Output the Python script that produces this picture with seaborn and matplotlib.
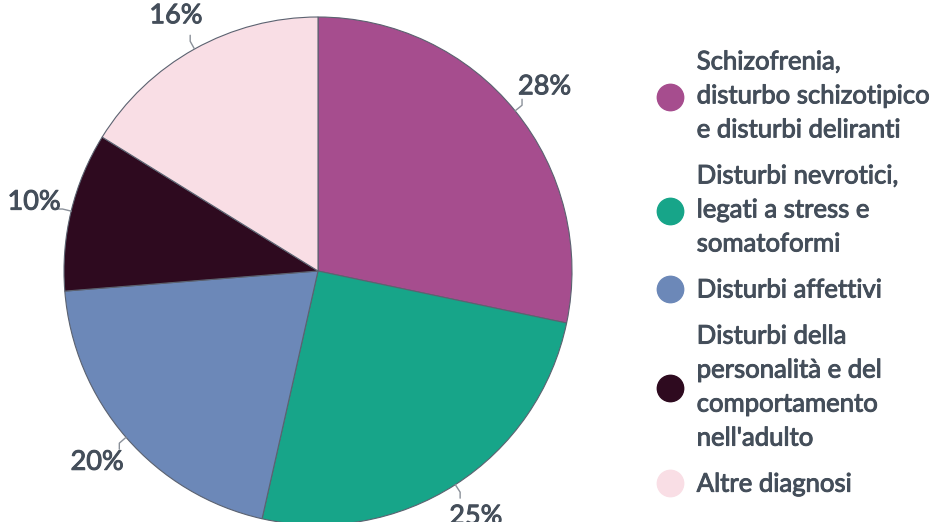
import numpy as np
import seaborn as sns
import matplotlib.pyplot as plt
import matplotlib.patheffects as pe
from matplotlib.lines import Line2D

# Data
categories = [
    "Schizofrenia,\ndisturbo schizotipico\ne disturbi deliranti",
    "Disturbi nevrotici,\nlegati a stress e\nsomatoformi",
    "Disturbi affettivi",
    "Disturbi della\npersonalità e del\ncomportamento\nnell'adulto",
    "Altre diagnosi",
]
shares = [28, 25, 20, 10, 16]
pct_labels = ["28%", "25%", "20%", "10%", "16%"]
colors = ["#a64d8e", "#17a589", "#6c88b8", "#2e0a1f", "#f9dee5"]

sns.set_theme(style="white")
plt.rcParams['font.family'] = ['Lato', 'DejaVu Sans']
text_color = "#444e5a"
# slightly heavier strokes, the original uses a medium weight
heavier = [pe.withStroke(linewidth=0.7, foreground=text_color)]

fig = plt.figure(figsize=(9.37, 5.22), dpi=100)
ax = fig.add_axes([0, 0, 1, 1])

cx, cy, r = 318, 251, 254
wedges, _ = ax.pie(shares, colors=colors, startangle=90, counterclock=False,
                   center=(cx, cy), radius=r,
                   wedgeprops=dict(edgecolor="#5b6270", linewidth=0.8))
ax.set_xlim(0, 937)
ax.set_ylim(0, 522)
ax.set_aspect('equal')
ax.axis('off')

# percentage labels with small elbow leader lines
for w, lab in zip(wedges, pct_labels):
    ang = np.deg2rad((w.theta1 + w.theta2) / 2)
    ca, sa = np.cos(ang), np.sin(ang)
    p0 = (cx + r * ca, cy + r * sa)
    p1 = (cx + r * 1.035 * ca, cy + r * 1.035 * sa)
    if abs(sa) > 0.3:
        p2 = (p1[0], p1[1] + 6 * np.sign(sa))
    else:
        p2 = (p1[0] + 6 * np.sign(ca), p1[1])
    ax.plot([p0[0], p1[0], p2[0]], [p0[1], p1[1], p2[1]], color="#8a9099", lw=1)
    ax.text(cx + r * 1.15 * ca, cy + r * 1.15 * sa, lab, ha='center', va='center',
            fontsize=19.5, color=text_color, path_effects=heavier)

handles = [Line2D([], [], marker='o', linestyle='', markersize=19,
                  markerfacecolor=c, markeredgecolor=c) for c in colors]
leg = ax.legend(handles, categories, loc='center left', bbox_to_anchor=(0.675, 0.477),
                bbox_transform=fig.transFigure, frameon=False, fontsize=18.5,
                labelcolor=text_color, labelspacing=0.82, handletextpad=0.5,
                handlelength=1.1)
for t in leg.get_texts():
    t.set_linespacing(1.45)
    t.set_path_effects(heavier)

fig.savefig("out.png", dpi=100)
